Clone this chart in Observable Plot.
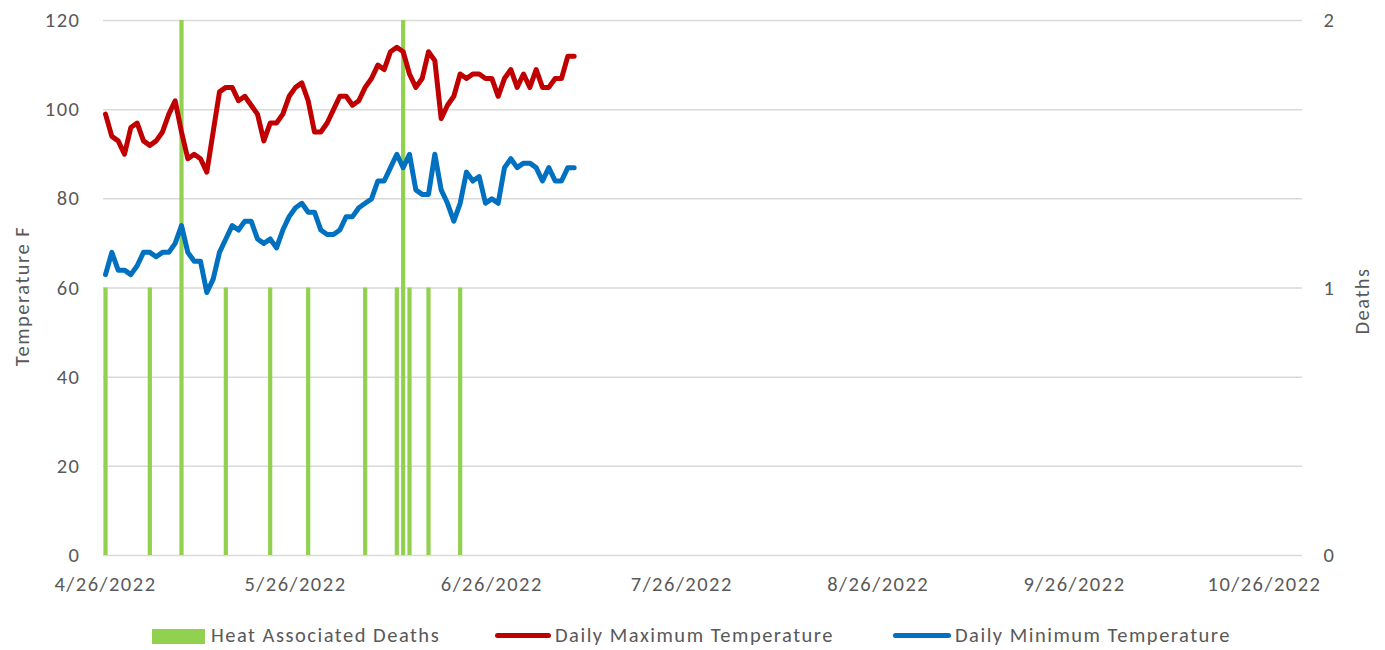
<!DOCTYPE html>
<html>
<head>
<meta charset="utf-8">
<script src="https://cdn.jsdelivr.net/npm/d3@7"></script>
<script src="https://cdn.jsdelivr.net/npm/@observablehq/plot@0.6"></script>
<style>
  html, body { margin: 0; padding: 0; background: #fff; }
  #wrap { position: relative; width: 1385px; height: 650px; overflow: hidden; font-family: Carlito, Lato, "Open Sans", sans-serif; color: #595959; }
  .leg { position: absolute; font-size: 20.5px; line-height: 22px; top: 624px; white-space: nowrap; letter-spacing: 1.5px; }
  .sw { position: absolute; }
</style>
</head>
<body>
<div id="wrap">
  <div id="chart"></div>
  <div class="sw" style="left:152px; top:629px; width:53px; height:15px; background:#92D050;"></div>
  <div class="leg" style="left:211px;">Heat Associated Deaths</div>
  <div class="sw" style="left:495px; top:633px; width:56px; height:5px; border-radius:3px; background:#C00000;"></div>
  <div class="leg" style="left:555px;">Daily Maximum Temperature</div>
  <div class="sw" style="left:893px; top:633px; width:58px; height:5px; border-radius:3px; background:#0070C0;"></div>
  <div class="leg" style="left:955px;">Daily Minimum Temperature</div>
</div>
<script>
// ---- data ----
const startDate = "2022-04-26";
const maxTemps = [99,94,93,90,96,97,93,92,93,95,99,102,95,89,90,89,86,95,104,105,105,102,103,101,99,93,97,97,99,103,105,106,102,95,95,97,100,103,103,101,102,105,107,110,109,113,114,113,108,105,107,113,111,98,101,103,108,107,108,108,107,107,103,107,109,105,108,105,109,105,105,107,107,112,112];
const minTemps = [63,68,64,64,63,65,68,68,67,68,68,70,74,68,66,66,59,62,68,71,74,73,75,75,71,70,71,69,73,76,78,79,77,77,73,72,72,73,76,76,78,79,80,84,84,87,90,87,90,82,81,81,90,82,79,75,79,86,84,85,79,80,79,87,89,87,88,88,87,84,87,84,84,87,87];
const deathDates = ["2022-04-26","2022-05-03","2022-05-08","2022-05-15","2022-05-22","2022-05-28","2022-06-06","2022-06-11","2022-06-12","2022-06-13","2022-06-16","2022-06-21"];
const deathCounts = [1,1,2,1,1,1,1,1,2,1,1,1];
const tempTicks = [0,20,40,60,80,100,120];
const deathTicks = [0,1,2];
const xTickDates = ["2022-04-26","2022-05-26","2022-06-26","2022-07-26","2022-08-26","2022-09-26","2022-10-26"];
const axisEndDate = "2022-11-01";

// ---- build ----
const parse = d3.utcParse("%Y-%m-%d");
const start = parse(startDate);
const tempRows = maxTemps.map((v, i) => ({date: d3.utcDay.offset(start, i), max: v, min: minTemps[i]}));
const deathRows = deathDates.map((d, i) => ({date: parse(d), deaths: deathCounts[i]}));
const k = 120 / 2; // deaths axis 0-2 mapped onto temperature axis 0-120
const font = "Carlito, Lato, 'Open Sans', sans-serif";

const chart = Plot.plot({
  width: 1385,
  height: 612,
  marginLeft: 105,
  marginRight: 83,
  marginTop: 20,
  marginBottom: 57,
  style: {fontFamily: font, fontSize: "20.5px", letterSpacing: "1.5px", color: "#595959", background: "white", overflow: "visible"},
  x: {type: "utc", domain: [start, parse(axisEndDate)]},
  y: {domain: [0, 120]},
  marks: [
    Plot.gridY(tempTicks, {stroke: "#d9d9d9", strokeOpacity: 1, strokeWidth: 1.5, insetLeft: -2}),
    Plot.ruleX(deathRows, {x: "date", y1: 0, y2: d => d.deaths * k, stroke: "#92D050", strokeWidth: 4.2}),
    Plot.lineY(tempRows, {x: "date", y: "max", stroke: "#C00000", strokeWidth: 5, strokeLinejoin: "round", strokeLinecap: "round"}),
    Plot.lineY(tempRows, {x: "date", y: "min", stroke: "#0070C0", strokeWidth: 5, strokeLinejoin: "round", strokeLinecap: "round"}),
    Plot.axisY(tempTicks, {anchor: "left", tickSize: 0, tickPadding: 25, label: null}),
    Plot.axisY(deathTicks.map(d => d * k), {anchor: "right", tickSize: 0, tickPadding: 21, tickFormat: d => d / k, label: null}),
    Plot.axisX(xTickDates.map(parse), {anchor: "bottom", tickSize: 0, tickPadding: 21, tickFormat: d3.utcFormat("%-m/%-d/%Y"), label: null}),
    Plot.text(["Temperature F"], {frameAnchor: "left", textAnchor: "middle", dx: -83, dy: 8, rotate: -90, fontSize: 20.5, fill: "#595959"}),
    Plot.text(["Deaths"], {frameAnchor: "right", textAnchor: "middle", dx: 60, dy: 13, rotate: -90, fontSize: 20.5, fill: "#595959"})
  ]
});
document.getElementById("chart").append(chart);
</script>
</body>
</html>
